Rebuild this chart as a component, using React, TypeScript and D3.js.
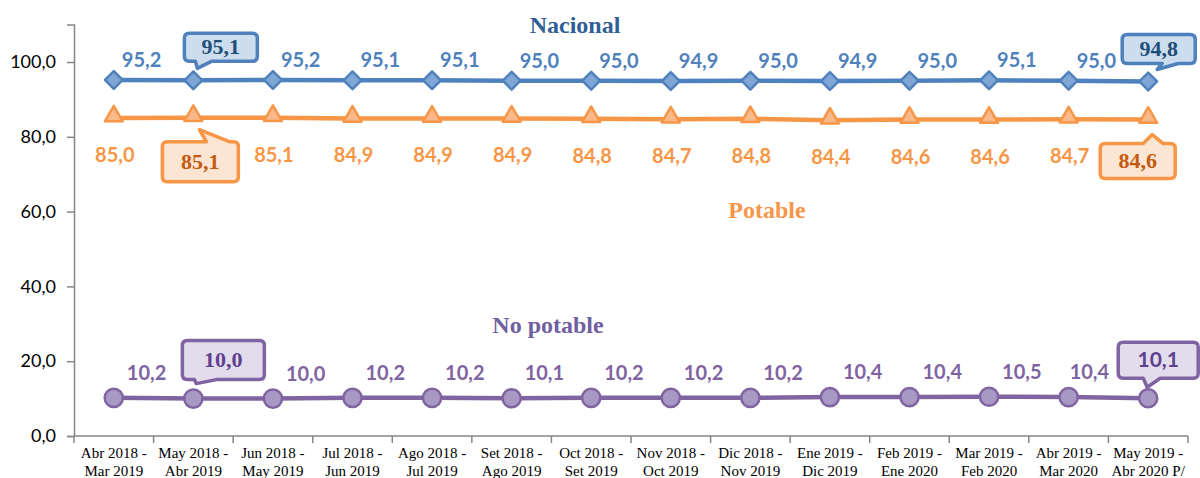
import React, { useEffect, useRef } from 'react';
import * as d3 from 'd3';

const categories: string[][] = [
  ['Abr 2018 -', 'Mar 2019'], ['May 2018 -', 'Abr 2019'], ['Jun 2018 -', 'May 2019'],
  ['Jul 2018 -', 'Jun 2019'], ['Ago 2018 -', 'Jul 2019'], ['Set 2018 -', 'Ago 2019'],
  ['Oct 2018 -', 'Set 2019'], ['Nov 2018 -', 'Oct 2019'], ['Dic 2018 -', 'Nov 2019'],
  ['Ene 2019 -', 'Dic 2019'], ['Feb 2019 -', 'Ene 2020'], ['Mar 2019 -', 'Feb 2020'],
  ['Abr 2019 -', 'Mar 2020'], ['May 2019 -', 'Abr 2020 P/'],
];
const nacional = [95.2, 95.1, 95.2, 95.1, 95.1, 95.0, 95.0, 94.9, 95.0, 94.9, 95.0, 95.1, 95.0, 94.8];
const potable = [85.0, 85.1, 85.1, 84.9, 84.9, 84.9, 84.8, 84.7, 84.8, 84.4, 84.6, 84.6, 84.7, 84.6];
const noPotable = [10.2, 10.0, 10.0, 10.2, 10.2, 10.1, 10.2, 10.2, 10.2, 10.4, 10.4, 10.5, 10.4, 10.1];
const yTicks = [0, 20, 40, 60, 80, 100];
const calloutIdx = [1, 13];

const W = 1200;
const H = 478;
const fmt = (v: number) => d3.format('.1f')(v).replace('.', ',');

// rounded box with a tail; tail on 'top' or 'bottom' edge between t1..t2, pointing to tip
function calloutPath(x0: number, y0: number, x1: number, y1: number, r: number,
  side: string, t1: number, t2: number, tx: number, ty: number) {
  const p = d3.path();
  p.moveTo(x0 + r, y0);
  if (side === 'top') { p.lineTo(t1, y0); p.lineTo(tx, ty); p.lineTo(t2, y0); }
  p.lineTo(x1 - r, y0);
  p.quadraticCurveTo(x1, y0, x1, y0 + r);
  p.lineTo(x1, y1 - r);
  p.quadraticCurveTo(x1, y1, x1 - r, y1);
  if (side === 'bottom') { p.lineTo(t2, y1); p.lineTo(tx, ty); p.lineTo(t1, y1); }
  p.lineTo(x0 + r, y1);
  p.quadraticCurveTo(x0, y1, x0, y1 - r);
  p.lineTo(x0, y0 + r);
  p.quadraticCurveTo(x0, y0, x0 + r, y0);
  p.closePath();
  return p.toString();
}

const App = () => {
  const ref = useRef<SVGSVGElement | null>(null);

  useEffect(() => {
    if (!ref.current) return;
    const svg = d3.select(ref.current);
    svg.selectAll('*').remove();

    const x = d3.scaleBand<number>().domain(d3.range(categories.length)).range([74, 1188]);
    const cx = (i: number) => (x(i) as number) + x.bandwidth() / 2;
    const y = d3.scaleLinear().domain([0, 110]).range([436, 24.6]);
    const axisColor = '#868686';

    // y axis
    const yAxis = svg.append('g').attr('transform', 'translate(74,0)')
      .call(d3.axisLeft(y).tickValues(yTicks).tickSize(7).tickFormat((d) => fmt(d as number)));
    yAxis.select('.domain').attr('stroke', axisColor).attr('stroke-width', 1.5);
    yAxis.selectAll('line').attr('stroke', axisColor).attr('stroke-width', 1.5);
    yAxis.selectAll('text').attr('font-family', 'Lato').attr('font-size', 18)
      .attr('fill', '#000').attr('x', -18);

    // x axis
    const xg = svg.append('g');
    xg.append('line').attr('x1', 74).attr('x2', 1188).attr('y1', y(0)).attr('y2', y(0))
      .attr('stroke', axisColor).attr('stroke-width', 1.5);
    d3.range(categories.length + 1).forEach((i) => {
      const xx = 74 + i * x.step();
      xg.append('line').attr('x1', xx).attr('x2', xx).attr('y1', y(0)).attr('y2', y(0) + 7)
        .attr('stroke', axisColor).attr('stroke-width', 1.5);
    });
    categories.forEach((c, i) => {
      const t = xg.append('text').attr('text-anchor', 'middle')
        .attr('font-family', 'Liberation Serif').attr('font-size', 15).attr('fill', '#000');
      c.forEach((line, k) => {
        t.append('tspan').attr('x', cx(i)).attr('y', 458 + k * 17.5).text(line);
      });
    });

    const series = [
      { name: 'Nacional', values: nacional, line: '#4F81BD', fill: '#7FA6D4', dark: '#1F4E79',
        box: '#CCDDEE', marker: 'diamond', lab: 'above', title: [575, 33] },
      { name: 'Potable', values: potable, line: '#F79646', fill: '#FAB98A', dark: '#C55A11',
        box: '#FDE5D3', marker: 'triangle', lab: 'below', title: [767, 218] },
      { name: 'No potable', values: noPotable, line: '#8064A2', fill: '#A898C4', dark: '#5F3F8F',
        box: '#E2DCEC', marker: 'circle', lab: 'aboveRight', title: [548, 333] },
    ];

    const lineGen = d3.line<number>().x((_, i) => cx(i)).y((d) => y(d));

    series.forEach((s) => {
      svg.append('path').attr('d', lineGen(s.values) as string).attr('fill', 'none')
        .attr('stroke', s.line).attr('stroke-width', 4.5).attr('stroke-linejoin', 'round');

      const sym = s.marker === 'diamond' ? d3.symbol(d3.symbolDiamond2, 200)
        : s.marker === 'triangle' ? d3.symbol(d3.symbolTriangle2, 230)
          : d3.symbol(d3.symbolCircle, 260);
      s.values.forEach((v, i) => {
        const dy = s.marker === 'triangle' ? -2 : 0;
        svg.append('path').attr('d', sym() as string)
          .attr('transform', `translate(${cx(i)},${y(v) + dy})`)
          .attr('fill', s.fill).attr('stroke', s.line).attr('stroke-width', 2.5)
          .attr('stroke-linejoin', 'round');
      });

      // data labels
      s.values.forEach((v, i) => {
        if (calloutIdx.includes(i)) return;
        const px = cx(i);
        const py = y(v);
        const t = svg.append('text').attr('font-family', 'Lato').attr('font-weight', 'bold')
          .attr('font-size', 20).attr('fill', s.line).text(fmt(v));
        if (s.lab === 'above') t.attr('x', px + 8).attr('y', py - 13);
        else if (s.lab === 'below') t.attr('x', px + 1).attr('y', py + 44).attr('text-anchor', 'middle');
        else {
          // label next to a callout is pushed left to stay clear of it
          const shift = calloutIdx.includes(i + 1) && i > 1 ? 1 : 13;
          t.attr('x', px + shift).attr('y', py - 18);
        }
      });

      // series title
      svg.append('text').attr('x', s.title[0]).attr('y', s.title[1]).attr('text-anchor', 'middle')
        .attr('font-family', 'Liberation Serif').attr('font-weight', 'bold').attr('font-size', 24)
        .attr('fill', s.name === 'Nacional' ? '#2F5F95' : s.name === 'Potable' ? '#F79646' : '#7060A0')
        .text(s.name);
    });

    // callouts
    const callouts = [
      { s: 0, i: 1, b: [-9, -47, 64, -19], side: 'bottom', t: [2, 18], tip: [4, -12], serif: true },
      { s: 0, i: 13, b: [-26, -47, 47, -18], side: 'bottom', t: [14, 30], tip: [9, -12], serif: true },
      { s: 1, i: 1, b: [-31, 24, 45, 64], side: 'top', t: [13, 36], tip: [6, 12], serif: true },
      { s: 1, i: 13, b: [-48, 24, 27, 59], side: 'top', t: [-5, 15], tip: [4, 15], serif: true },
      { s: 2, i: 1, b: [-11, -58, 71, -19], side: 'bottom', t: [1, 23], tip: [3, -15], serif: true },
      { s: 2, i: 13, b: [-30, -56, 50, -20], side: 'bottom', t: [-5, 12], tip: [-1, -11], serif: false },
    ];
    callouts.forEach((c) => {
      const s = series[c.s];
      const v = s.values[c.i];
      const px = cx(c.i);
      const py = y(v);
      svg.append('path')
        .attr('d', calloutPath(px + c.b[0], py + c.b[1], px + c.b[2], py + c.b[3], 5, c.side,
          px + c.t[0], px + c.t[1], px + c.tip[0], py + c.tip[1]))
        .attr('fill', s.box).attr('stroke', s.line).attr('stroke-width', 3.5)
        .attr('stroke-linejoin', 'round');
      svg.append('text').attr('x', px + (c.b[0] + c.b[2]) / 2)
        .attr('y', py + (c.b[1] + c.b[3]) / 2 + 7).attr('text-anchor', 'middle')
        .attr('font-family', c.serif ? 'Liberation Serif' : 'Lato').attr('font-weight', 'bold')
        .attr('font-size', c.serif ? 22 : 21).attr('fill', s.dark).text(fmt(v));
    });
  }, []);

  return (
    <svg ref={ref} width={W} height={H}
      style={{ position: 'absolute', left: 0, top: 0, background: '#fff', display: 'block' }} />
  );
};

export default App;
